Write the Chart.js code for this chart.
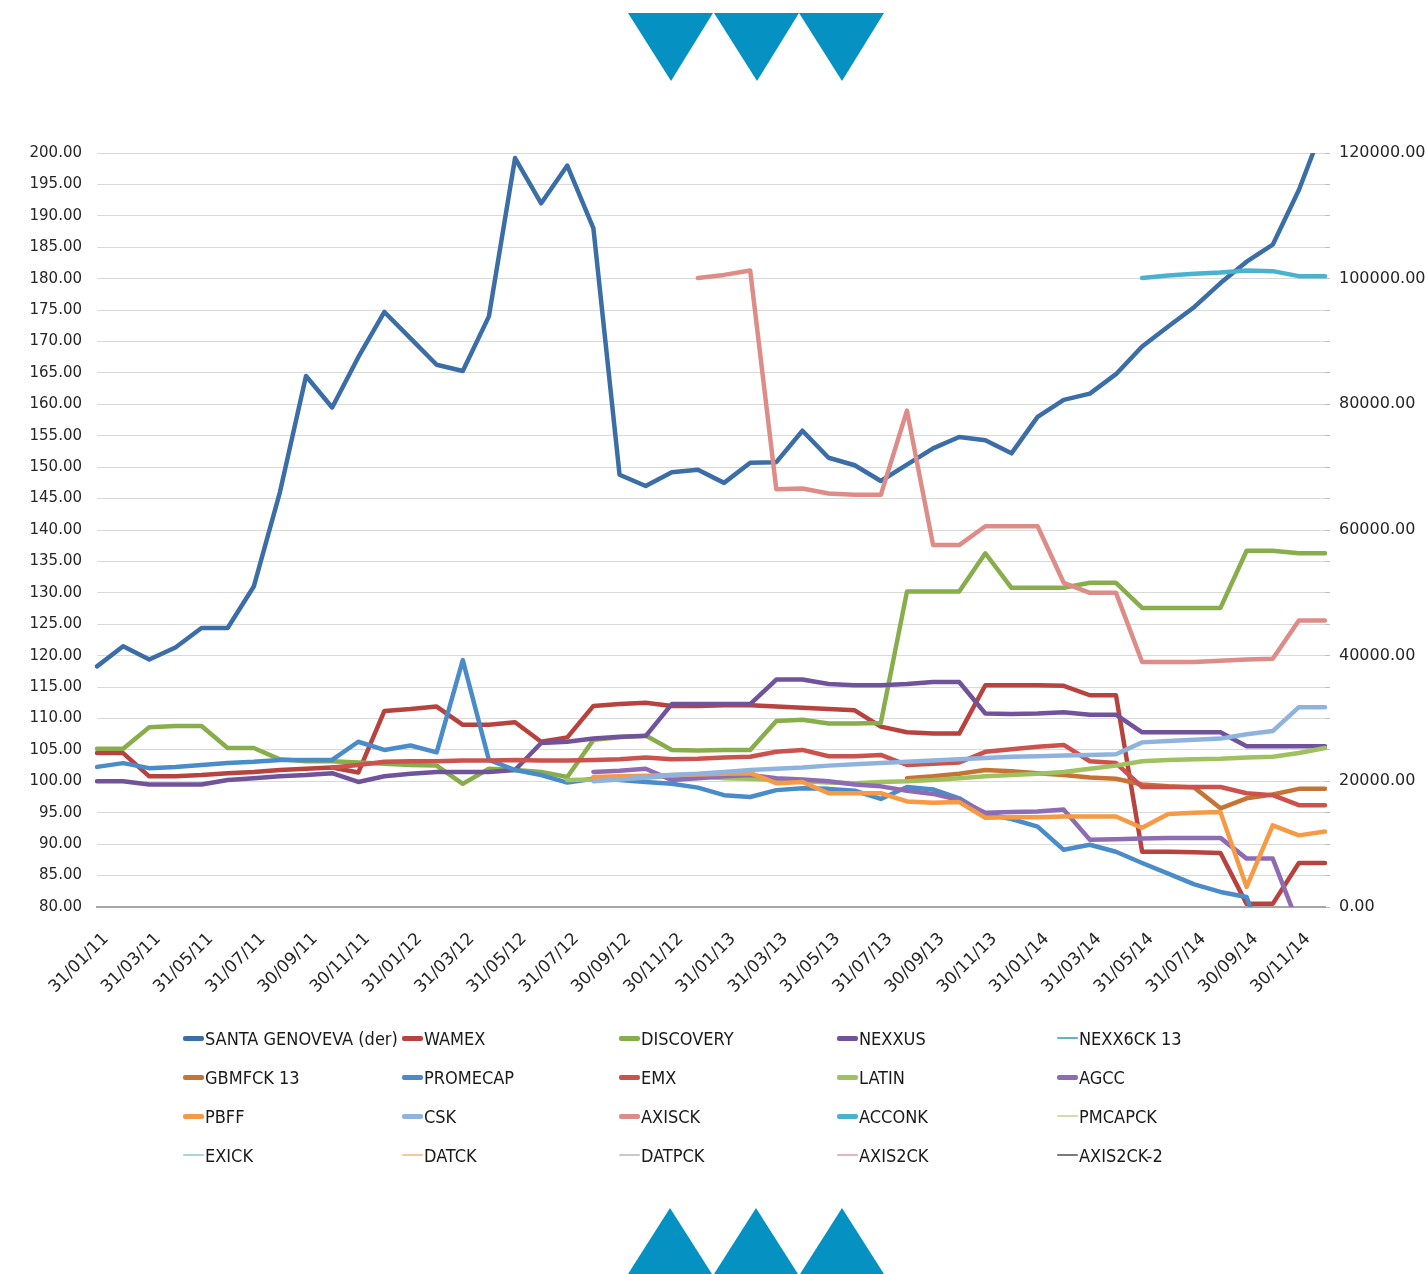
<!DOCTYPE html>
<html>
<head>
<meta charset="utf-8">
<script src="https://cdn.jsdelivr.net/npm/chart.js@4.4.1/dist/chart.umd.min.js"></script>
<style>
  html, body { margin: 0; padding: 0; background: #ffffff; }
  #wrap { position: relative; width: 1427px; height: 1274px; overflow: hidden; background: #ffffff; }
  #chart { position: absolute; left: 0; top: 0; }
  #deco { position: absolute; left: 0; top: 0; pointer-events: none; }
  #legend { position: absolute; left: 0; top: 0; width: 1427px; height: 1274px; pointer-events: none;
            font-family: 'DejaVu Sans Condensed', 'DejaVu Sans', sans-serif; font-size: 18px; color: #1a1a1a; }
  .item { position: absolute; display: flex; align-items: center; height: 24px; white-space: nowrap; }
  .swatch { display: inline-block; width: 21px; margin-right: 1px; border-radius: 2px; }
</style>
</head>
<body>
<div id="wrap">
  <canvas id="chart" width="1427" height="1274"></canvas>
  <svg id="deco" width="1427" height="1274" xmlns="http://www.w3.org/2000/svg">
    <g fill="#0592c3">
      <polygon points="628,13 713,13 671,81"/>
      <polygon points="714,13 799,13 757,81"/>
      <polygon points="799,13 884,13 842,81"/>
      <polygon points="628,1274 712,1274 670,1208"/>
      <polygon points="714,1274 798,1274 756,1208"/>
      <polygon points="800,1274 884,1274 842,1208"/>
    </g>
  </svg>
  <div id="legend"></div>
</div>
<script>
// Month-end dates, January 2011 to December 2014
const months = [
  '31/01/11','28/02/11','31/03/11','30/04/11','31/05/11','30/06/11','31/07/11','31/08/11','30/09/11','31/10/11','30/11/11','31/12/11',
  '31/01/12','29/02/12','31/03/12','30/04/12','31/05/12','30/06/12','31/07/12','31/08/12','30/09/12','31/10/12','30/11/12','31/12/12',
  '31/01/13','28/02/13','31/03/13','30/04/13','31/05/13','30/06/13','31/07/13','31/08/13','30/09/13','31/10/13','30/11/13','31/12/13',
  '31/01/14','28/02/14','31/03/14','30/04/14','31/05/14','30/06/14','31/07/14','31/08/14','30/09/14','31/10/14','30/11/14','31/12/14'
];

const seriesNames = [
  'SANTA GENOVEVA (der)', 'WAMEX', 'DISCOVERY', 'NEXXUS', 'NEXX6CK 13',
  'GBMFCK 13', 'PROMECAP', 'EMX', 'LATIN', 'AGCC',
  'PBFF', 'CSK', 'AXISCK', 'ACCONK', 'PMCAPCK',
  'EXICK', 'DATCK', 'DATPCK', 'AXIS2CK', 'AXIS2CK-2'
];

// Right-hand axis series
const santaGenoveva = [
  38300, 41500, 39400, 41300, 44400, 44400, 51000, 66000, 84500, 79500, 87500, 94700,
  90500, 86300, 85300, 94000, 119200, 112000, 118000, 108000, 68800, 67000, 69200, 69600,
  67500, 70700, 70800, 75800, 71500, 70300, 67800, 70400, 73000, 74800, 74300, 72200,
  78000, 80700, 81700, 84800, 89200, 92400, 95500, 99300, 102700, 105400, 114100, 125000
];

// Left-hand axis series
const wamex = [
  104.5, 104.5, 100.8, 100.8, 101.0, 101.3, 101.5, 101.8, 102.0, 102.2, 101.4, 111.2,
  111.5, 111.9, 109.0, 109.0, 109.4, 106.3, 107.0, 112.0, 112.3, 112.5, 112.0, 112.0,
  112.1, 112.1, 111.9, 111.7, 111.5, 111.3, 108.7, 107.8, 107.6, 107.6, 115.3, 115.3,
  115.3, 115.2, 113.7, 113.7, 88.8, 88.8, 88.7, 88.6, 80.5, 80.5, 87.0, 87.0
];
const discovery = [
  105.2, 105.2, 108.6, 108.8, 108.8, 105.3, 105.3, 103.5, 103.2, 103.2, 103.0, 102.8,
  102.6, 102.5, 99.6, 102.0, 101.8, 101.5, 100.7, 106.6, 107.0, 107.3, 105.0, 104.9,
  105.0, 105.0, 109.6, 109.8, 109.2, 109.2, 109.3, 130.2, 130.2, 130.2, 136.3, 130.8,
  130.8, 130.8, 131.6, 131.6, 127.6, 127.6, 127.6, 127.6, 136.7, 136.7, 136.3, 136.3
];
const nexxus = [
  100.0, 100.0, 99.5, 99.5, 99.5, 100.2, 100.5, 100.8, 101.0, 101.3, 99.9, 100.8,
  101.2, 101.5, 101.5, 101.5, 101.8, 106.1, 106.3, 106.8, 107.1, 107.2, 112.3, 112.3,
  112.3, 112.3, 116.2, 116.2, 115.5, 115.3, 115.3, 115.5, 115.8, 115.8, 110.8, 110.7,
  110.8, 111.0, 110.6, 110.6, 107.8, 107.8, 107.8, 107.8, 105.6, 105.6, 105.6, 105.6
];
const nexx6ck13 = [];
const gbmfck13 = [
  null, null, null, null, null, null, null, null, null, null, null, null,
  null, null, null, null, null, null, null, null, null, null, null, null,
  null, null, null, null, null, null, null, 100.5, 100.8, 101.2, 101.8, 101.6,
  101.3, 101.0, 100.6, 100.4, 99.5, 99.2, 99.0, 95.7, 97.3, 97.9, 98.8, 98.8
];
const promecap = [
  102.3, 102.9, 102.1, 102.3, 102.6, 102.9, 103.1, 103.4, 103.4, 103.4, 106.3, 105.0,
  105.7, 104.6, 119.3, 103.4, 101.8, 101.0, 99.8, 100.4, 100.2, 99.9, 99.6, 99.0,
  97.8, 97.5, 98.6, 98.9, 98.8, 98.5, 97.2, 99.1, 98.7, 97.3, 94.8, 94.0,
  92.8, 89.1, 89.9, 88.8, 87.0, 85.3, 83.6, 82.4, 81.6, 70.0, null, null
];
const emx = [
  null, null, null, null, null, null, null, null, null, 102.2, 102.6, 103.1,
  103.2, 103.2, 103.3, 103.3, 103.4, 103.3, 103.3, 103.4, 103.5, 103.8, 103.5, 103.6,
  103.8, 103.9, 104.7, 105.0, 104.0, 104.0, 104.2, 102.6, 102.8, 103.0, 104.7, 105.1,
  105.5, 105.8, 103.2, 102.9, 99.1, 99.1, 99.1, 99.1, 98.1, 97.8, 96.2, 96.2
];
const latin = [
  null, null, null, null, null, null, null, null, null, null, null, null,
  null, null, null, null, null, null, 100.2, 100.3, 100.5, 100.6, 100.8, 100.8,
  100.5, 100.4, 100.2, 100.0, 99.8, 99.7, 99.9, 100.0, 100.2, 100.5, 100.8, 101.0,
  101.2, 101.5, 102.0, 102.5, 103.2, 103.4, 103.5, 103.6, 103.8, 103.9, 104.5, 105.3
];
const agcc = [
  null, null, null, null, null, null, null, null, null, null, null, null,
  null, null, null, null, null, null, null, 101.5, 101.7, 102.0, 100.2, 100.5,
  100.8, 101.0, 100.5, 100.3, 100.0, 99.5, 99.2, 98.5, 98.0, 97.0, 95.0, 95.1,
  95.2, 95.5, 90.7, 90.8, 90.9, 91.0, 91.0, 91.0, 87.7, 87.7, 77.0, null
];
const pbff = [
  null, null, null, null, null, null, null, null, null, null, null, null,
  null, null, null, null, null, null, null, 100.7, 100.8, 100.9, 101.0, 101.1,
  101.2, 101.3, 99.7, 99.9, 98.1, 98.1, 98.1, 96.8, 96.6, 96.7, 94.2, 94.3,
  94.3, 94.4, 94.4, 94.4, 92.6, 94.8, 95.0, 95.1, 83.2, 93.0, 91.4, 92.0
];
const csk = [
  null, null, null, null, null, null, null, null, null, null, null, null,
  null, null, null, null, null, null, null, 100.0, 100.3, 100.6, 101.0, 101.2,
  101.5, 101.8, 102.0, 102.2, 102.5, 102.7, 102.9, 103.1, 103.3, 103.5, 103.7, 103.9,
  104.0, 104.1, 104.2, 104.3, 106.2, 106.4, 106.6, 106.8, 107.5, 108.0, 111.8, 111.8
];
const axisck = [
  null, null, null, null, null, null, null, null, null, null, null, null,
  null, null, null, null, null, null, null, null, null, null, null, 180.1,
  180.6, 181.3, 146.5, 146.6, 145.8, 145.6, 145.6, 159.0, 137.6, 137.6, 140.6, 140.6,
  140.6, 131.6, 130.0, 130.0, 119.0, 119.0, 119.0, 119.2, 119.4, 119.5, 125.6, 125.6
];
const acconk = [
  null, null, null, null, null, null, null, null, null, null, null, null,
  null, null, null, null, null, null, null, null, null, null, null, null,
  null, null, null, null, null, null, null, null, null, null, null, null,
  null, null, null, null, 180.1, 180.5, 180.8, 181.0, 181.3, 181.2, 180.4, 180.4
];
const pmcapck = [];
const exick = [];
const datck = [];
const datpck = [];
const axis2ck = [];
const axis2ck2 = [];

// Axis tick settings
const leftMin = 80, leftMax = 200, leftStep = 5;
const rightMin = 0, rightMax = 120000, rightStep = 5000, rightLabelStep = 20000;

const seriesData = [
  santaGenoveva, wamex, discovery, nexxus, nexx6ck13,
  gbmfck13, promecap, emx, latin, agcc,
  pbff, csk, axisck, acconk, pmcapck,
  exick, datck, datpck, axis2ck, axis2ck2
];
const seriesColors = [
  '#3b6ea6', '#b8423e', '#88ad4b', '#71539c', '#5db6d0',
  '#c57433', '#4a8cca', '#cc524d', '#9fc160', '#8e6cb3',
  '#f59a45', '#8fb3df', '#dd8c88', '#48b2cf', '#cfdcae',
  '#a9d3df', '#f6c59c', '#c9c9c9', '#e8b3b3', '#7a7a7a'
];
const thinSeries = new Set([4, 14, 15, 16, 17, 18, 19]);

const datasets = seriesNames.map((name, i) => ({
  label: name,
  data: seriesData[i],
  yAxisID: i === 0 ? 'y1' : 'y',
  borderColor: seriesColors[i],
  backgroundColor: seriesColors[i],
  borderWidth: thinSeries.has(i) ? 2 : 4.5,
  pointRadius: 0,
  pointHoverRadius: 0,
  tension: 0,
  spanGaps: false,
  borderJoinStyle: 'round',
  borderCapStyle: 'round',
  order: -i
}));

const tickFont = { family: "'DejaVu Sans', sans-serif", size: 15 };

const chart = new Chart(document.getElementById('chart'), {
  type: 'line',
  data: { labels: months, datasets },
  options: {
    responsive: false,
    animation: false,
    events: [],
    layout: { padding: { top: 153, left: 0, right: 0, bottom: 0 } },
    plugins: {
      legend: { display: false },
      tooltip: { enabled: false }
    },
    scales: {
      x: {
        type: 'category',
        offset: false,
        grid: { display: false, drawTicks: false },
        border: { display: true, color: '#a6a6a6', width: 2 },
        ticks: {
          autoSkip: false,
          minRotation: 45,
          maxRotation: 45,
          padding: 22,
          labelOffset: 9,
          color: '#262626',
          font: { family: "'DejaVu Sans', sans-serif", size: 17 },
          callback: (v, idx) => (idx % 2 === 0 ? months[idx] : '')
        },
        afterFit: (s) => { s.height = 1274 - 907; }
      },
      y: {
        position: 'left',
        min: leftMin,
        max: leftMax,
        grid: { color: '#d9d9d9', lineWidth: 1, drawTicks: false },
        border: { display: false },
        ticks: {
          stepSize: leftStep,
          autoSkip: false,
          padding: 15,
          color: '#262626',
          font: tickFont,
          callback: (v) => Number(v).toFixed(2)
        },
        afterFit: (s) => { s.width = 97; }
      },
      y1: {
        position: 'right',
        min: rightMin,
        max: rightMax,
        grid: { drawOnChartArea: false, drawTicks: true, tickLength: 5, tickColor: '#bfbfbf' },
        border: { display: false },
        ticks: {
          stepSize: rightStep,
          autoSkip: false,
          padding: 9,
          color: '#262626',
          font: { family: "'DejaVu Sans', sans-serif", size: 16 },
          callback: (v) => (v % rightLabelStep === 0 ? Number(v).toFixed(2) : '')
        },
        afterFit: (s) => { s.width = 102; }
      }
    }
  }
});

// Legend in a 5-column grid below the plot
const legendBox = document.getElementById('legend');
const colX = [183, 402, 619, 837, 1057];
const rowY = [1038, 1077, 1116, 1155];
chart.data.datasets.forEach((ds, i) => {
  const item = document.createElement('div');
  item.className = 'item';
  item.style.left = colX[i % 5] + 'px';
  item.style.top = (rowY[Math.floor(i / 5)] - 12) + 'px';
  const sw = document.createElement('span');
  sw.className = 'swatch';
  sw.style.background = ds.borderColor;
  sw.style.height = (thinSeries.has(i) ? 2 : 5) + 'px';
  const tx = document.createElement('span');
  tx.textContent = ds.label;
  item.appendChild(sw);
  item.appendChild(tx);
  legendBox.appendChild(item);
});
</script>
</body>
</html>
